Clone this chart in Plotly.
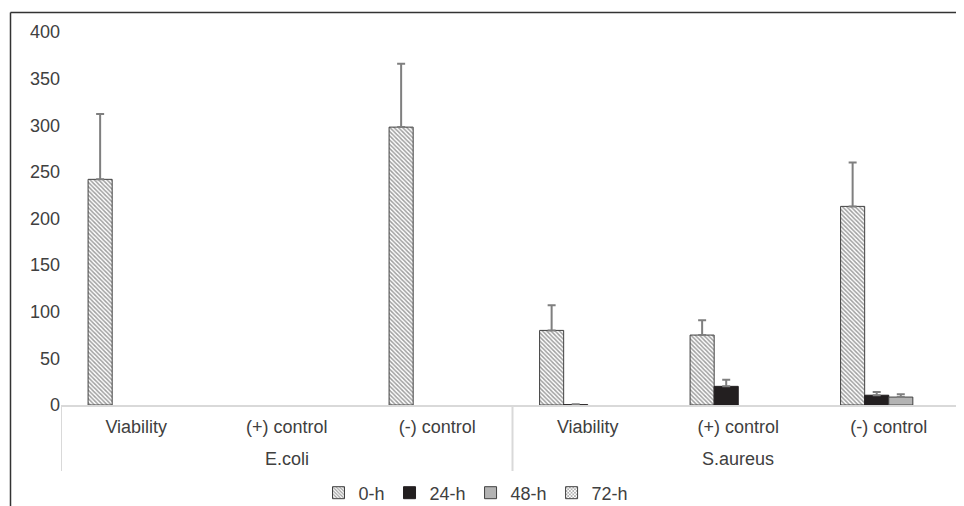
import plotly.graph_objects as go

organisms = ["E.coli", "E.coli", "E.coli", "S.aureus", "S.aureus", "S.aureus"]
tests = ["Viability", "(+) control", "(-) control", "Viability", "(+) control", "(-) control"]

series_names = ["0-h", "24-h", "48-h", "72-h"]
values_0h = [242, None, 298, 80, 75, 213]
errors_0h = [70, None, 68, 27, 16, 47]
values_24h = [None, None, None, 0.3, 20, 10.5]
errors_24h = [None, None, None, 0.6, 7, 3.5]
values_48h = [None, None, None, None, None, 8.5]
errors_48h = [None, None, None, None, None, 3]
values_72h = [None, None, None, None, None, None]
errors_72h = [None, None, None, None, None, None]

y_ticks = [0, 50, 100, 150, 200, 250, 300, 350, 400]

FONT = "Liberation Sans, Arial, sans-serif"
TXT = "#404040"
ERR = "#7f7f7f"
DIV = "#d9d9d9"

styles = [
    dict(color="white", line=dict(color="#404040", width=1),
         pattern=dict(shape="\\", fgcolor="#404040", bgcolor="white", size=3, solidity=0.5)),
    dict(color="#231f20", line=dict(color="#231f20", width=1)),
    dict(color="#b3b3b3", line=dict(color="#404040", width=1)),
    dict(color="white", line=dict(color="#404040", width=1),
         pattern=dict(shape="x", fgcolor="#404040", bgcolor="white", size=3, solidity=0.5)),
]
vals = [values_0h, values_24h, values_48h, values_72h]
errs = [errors_0h, errors_24h, errors_48h, errors_72h]

positions = list(range(len(tests)))

fig = go.Figure()
for name, v, e, st in zip(series_names, vals, errs, styles):
    fig.add_trace(go.Bar(
        name=name,
        x=positions,
        y=v,
        marker=st,
        error_y=dict(type="data", symmetric=False, array=e,
                     arrayminus=[0 if x is not None else None for x in e],
                     color=ERR, thickness=2, width=4),
    ))

# group boundaries and centres derived from the organism list
bounds = [-0.5] + [i - 0.5 for i in range(1, len(organisms)) if organisms[i] != organisms[i - 1]] + [len(organisms) - 0.5]
groups = []
for i, org in enumerate(organisms):
    if not groups or groups[-1][0] != org:
        groups.append([org, []])
    groups[-1][1].append(i)

# the page body has an 8px default margin, so work in page pixels minus 8
OFF = 8
W, H = 964 - OFF, 506 - OFF
L, R, T = 61 - OFF, 0, 32 - OFF
B = H - (405 - OFF)
pw, ph = W - L - R, H - T - B

def px_x(p):
    return (p - OFF - L) / pw

def px_y(p):
    return (H - B - (p - OFF)) / ph

shapes = [
    dict(type="line", xref="paper", yref="paper", x0=px_x(10.5), x1=px_x(975),
         y0=px_y(12.5), y1=px_y(12.5), line=dict(color="#333333", width=1.5)),
    dict(type="line", xref="paper", yref="paper", x0=px_x(10.5), x1=px_x(10.5),
         y0=px_y(12.5), y1=px_y(520), line=dict(color="#333333", width=1.5)),
]
for b in bounds:
    shapes.append(dict(type="line", xref="x", yref="paper", x0=b, x1=b,
                       y0=0, y1=px_y(471), line=dict(color=DIV, width=2)))

annotations = [
    dict(text=org, x=sum(idx) / len(idx), xref="x", y=px_y(459), yref="paper",
         yanchor="middle", xanchor="center", showarrow=False,
         font=dict(size=18, color=TXT, family=FONT))
    for org, idx in groups
]

fig.update_layout(
    width=W, height=H,
    margin=dict(l=L, r=R, t=T, b=B, autoexpand=False),
    paper_bgcolor="white", plot_bgcolor="white",
    barmode="group", bargap=0.36, bargroupgap=0,
    font=dict(family=FONT, size=18, color=TXT),
    showlegend=True,
    legend=dict(orientation="h", x=px_x(476), y=px_y(493), xanchor="center", yanchor="middle",
                font=dict(size=18, color=TXT), itemwidth=30, traceorder="normal",
                bgcolor="rgba(0,0,0,0)"),
    xaxis=dict(range=[-0.5, len(tests) - 0.5], tickvals=positions, ticktext=tests,
               showline=True, linecolor=DIV, linewidth=2, showgrid=False, zeroline=False,
               ticks="", ticklabelstandoff=4, tickfont=dict(size=18, color=TXT)),
    yaxis=dict(range=[0, 400], tickvals=y_ticks, showgrid=False, zeroline=False,
               showline=False, ticks="", tickfont=dict(size=18, color=TXT)),
    shapes=shapes,
    annotations=annotations,
)

fig.write_html("out.html")
